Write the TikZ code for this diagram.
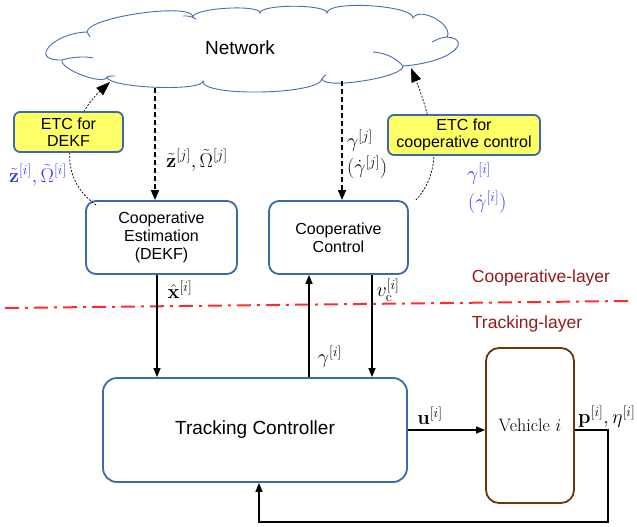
\RequirePackage{fix-cm}
\documentclass[tikz,border=0pt]{standalone}
\usepackage[no-math]{fontspec}
\newfontfamily\sansf{Liberation Sans}
\usetikzlibrary{arrows.meta,calc}
\definecolor{boxblue}{RGB}{60,105,170}
\definecolor{cloudblue}{RGB}{70,110,180}
\definecolor{etcyellow}{RGB}{255,255,102}
\definecolor{vehbrown}{RGB}{110,55,10}
\definecolor{layerred}{RGB}{150,25,25}
\definecolor{dashred}{RGB}{255,45,45}
\definecolor{lblblue}{RGB}{50,50,255}
\begin{document}
\begin{tikzpicture}[x=1pt,y=-1pt,
  bluebox/.style={draw=boxblue, line width=1.8pt, rounded corners=10pt, fill=white, inner sep=0pt, align=center, font=\sansf\fontsize{16}{18}\selectfont},
  etcbox/.style={draw=boxblue, line width=1.8pt, rounded corners=6pt, fill=etcyellow, inner sep=0pt, align=center, font=\sansf\fontsize{16}{17}\selectfont},
  mlabel/.style={inner sep=0pt, font=\fontsize{20}{24}\selectfont},
  arr/.style={line width=1.3pt, -{Triangle[length=9pt,width=7pt]}},
  darr/.style={line width=1.6pt, dash pattern=on 5pt off 3pt, -{Triangle[length=10pt,width=8pt]}},
  thinarr/.style={line width=0.7pt, dash pattern=on 2pt off 1.5pt, -{Triangle[length=14pt,width=10pt]}},
  layerlbl/.style={text=layerred, font=\sansf\fontsize{17.5}{20}\selectfont, inner sep=0pt},
  cloudline/.style={draw=cloudblue, line width=0.9pt}
]
\useasboundingbox (0,0) rectangle (637,527);

% cloud
\draw[cloudline, fill=white]
 (62,60) .. controls (28,61) and (53,33) .. (87,32)
 .. controls (87,17) and (193,2) .. (193,17)
 .. controls (193,8) and (260,4) .. (260,13)
 .. controls (260,4) and (327,4) .. (327,13)
 .. controls (327,0) and (413,5) .. (413,18)
 .. controls (420,6) and (454,25) .. (447,37)
 .. controls (472,39) and (455,62) .. (403,66)
 .. controls (405,77) and (324,90) .. (322,79)
 .. controls (319,95) and (200,97) .. (203,81)
 .. controls (203,92) and (107,88) .. (107,77)
 .. controls (104,86) and (59,69) .. (62,60) -- cycle;
\draw[cloudline] (62,60) .. controls (72,57) and (85,56) .. (93,58);
\draw[cloudline] (87,32) .. controls (88,34) .. (90,37);
\draw[cloudline] (183,16) .. controls (190,16) .. (196,19);
\draw[cloudline] (447,37) .. controls (440,38) .. (432,42);
\draw[cloudline] (403,66) .. controls (395,57) and (385,53) .. (373,52);
\draw[cloudline] (322,79) .. controls (323,77) .. (326,75);
\draw[cloudline] (107,77) .. controls (110,76) .. (115,76);
\node[font=\sansf\fontsize{19}{22}\selectfont, inner sep=0pt] (net) at (240,48) {Network};

\coordinate (netz) at (155,88);
\coordinate (netg) at (342,81);
\coordinate (netA) at (110,82);
\coordinate (netB) at (411,68);

% layer separator
\coordinate (sepL) at (5,308);
\coordinate (sepR) at (628,301);
\draw[dashred, line width=2pt, dash pattern=on 14pt off 6pt on 3pt off 6pt] (sepL) -- (sepR);
\node[layerlbl] (lcoop) at (541,278) {Cooperative-layer};
\node[layerlbl] (ltrack) at (527,324) {Tracking-layer};

% boxes
\node[bluebox, minimum width=151pt, minimum height=73pt] (dekf) at (161.5,237.5) {Cooperative\\Estimation\\(DEKF)};
\node[bluebox, minimum width=139pt, minimum height=73pt] (ccon) at (338.5,237.5) {Cooperative\\Control};
\node[bluebox, rounded corners=14pt, minimum width=304pt, minimum height=104pt, font=\sansf\fontsize{19}{22}\selectfont] (track) at (255,430) {Tracking Controller};
\node[draw=vehbrown, line width=1.8pt, rounded corners=13pt, minimum width=88pt, minimum height=155pt, inner sep=0pt, font=\fontsize{18}{22}\selectfont] (veh) at (530,425.5) {Vehicle $i$};

% ETC curves (behind ETC boxes)
\draw[thinarr] ($(dekf.north west)+(11,5)$) .. controls (75,190) and (68,170) .. (70,150) .. controls (72,130) and (85,105) .. (netA);
\draw[thinarr] ($(ccon.north east)+(7,0)$) .. controls (427,188) and (434,172) .. (434,152) .. controls (434,132) and (422,95) .. (netB);

\node[etcbox, minimum width=109pt, minimum height=40pt] (etc1) at (68.5,132) {ETC for\\DEKF};
\node[etcbox, minimum width=152pt, minimum height=40pt] (etc2) at (464,135) {ETC for\\cooperative control};

% network arrows
\draw[darr] (netz) -- (netz |- dekf.north);
\draw[darr] (netg) -- (netg |- ccon.north);

% solid arrows
\coordinate (xh) at ([xshift=-4.5pt]dekf.south);
\coordinate (gu) at ([xshift=-29.5pt]ccon.south);
\coordinate (vc) at ([xshift=33.5pt]ccon.south);
\coordinate (fbin) at ([xshift=4pt]track.south);
\coordinate (fb) at (608,522);
\draw[arr] (xh) -- (xh |- track.north);
\draw[arr] (gu |- track.north) -- (gu);
\draw[arr] (vc) -- (vc |- track.north);
\draw[arr] (track.east) -- (track.east -| veh.west);
\draw[arr] (track.east -| veh.east) -| (fb) -| (fbin);

% labels
\node[mlabel] (lxh) at (180,290) {$\hat{\mathbf{x}}^{[i]}$};
\node[mlabel] (lvc) at (388,290) {$v_{\mathrm{c}}^{[i]}$};
\node[mlabel] (lgu) at (330,357) {$\gamma^{[i]}$};
\node[mlabel] (lu) at (430,416) {$\mathbf{u}^{[i]}$};
\node[mlabel, anchor=west] (lp) at (578,417) {$\mathbf{p}^{[i]},\eta^{[i]}$};
\node[mlabel] (lzj) at (197,160) {$\tilde{\mathbf{z}}^{[j]},\tilde{\Omega}^{[j]}$};
\node[mlabel, anchor=west] (lgj) at (347,141) {$\gamma^{[j]}$};
\node[mlabel, anchor=west] (lgdj) at (347,167) {$(\dot{\gamma}^{[j]})$};
\node[mlabel, text=lblblue] (lzi) at (38,175) {$\tilde{\mathbf{z}}^{[i]},\tilde{\Omega}^{[i]}$};
\node[mlabel, text=lblblue, anchor=west] (lgi) at (467,174) {$\gamma^{[i]}$};
\node[mlabel, text=lblblue, anchor=west] (lgdi) at (468,202) {$(\dot{\gamma}^{[i]})$};
\end{tikzpicture}
\end{document}
